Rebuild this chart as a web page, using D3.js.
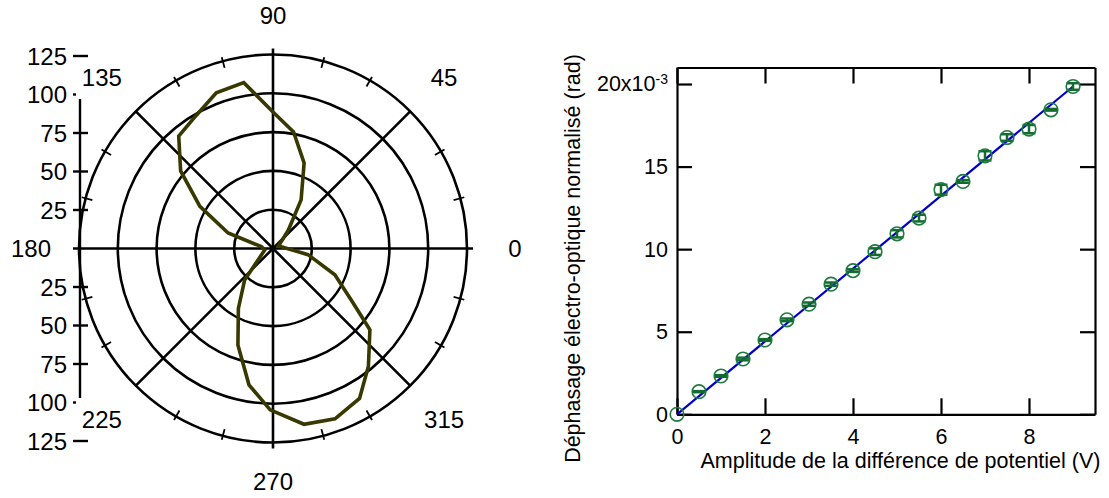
<!DOCTYPE html>
<html><head><meta charset="utf-8">
<script src="https://cdn.jsdelivr.net/npm/d3@7"></script>
<style>body{margin:0;background:#fff} text{font-family:"Liberation Sans",Arial,sans-serif;fill:#000}</style>
</head><body><svg id="c" width="1109" height="498"></svg>
<script>
// ---------- Polar data ----------
const polarAngles = [25, 50, 60, 70, 80, 90, 100, 110, 120, 130, 140, 150, 161, 171, 190, 228, 240, 250, 260, 269, 280, 290, 300, 309, 320, 326, 337, 350];
const polarRadii  = [4, 15.3, 36.2, 58.6, 76.3, 88, 108.5, 106.8, 99, 94.5, 77.7, 54.4, 30.6, 7.6, 5.4, 27.3, 44.6, 66.1, 89.2, 104, 115, 116.8, 111.5, 97.7, 81.5, 61.9, 43.3, 22.9];
const polarRings = [25, 50, 75, 100, 125];
const polarSpokes = [0, 45, 90, 135, 180, 225, 270, 315];
const polarAngleLabels = ["0", "45", "90", "135", "180", "225", "270", "315"];
const polarMinorTicks = [15, 30, 60, 75, 105, 120, 150, 165, 195, 210, 240, 255, 285, 300, 330, 345];
const radialTicks = [125, 100, 75, 50, 25, -25, -50, -75, -100, -125];
const radialTickLabels = ["125", "100", "75", "50", "25", "25", "50", "75", "100", "125"];

// ---------- XY data ----------
const voltage = [0, 0.5, 1, 1.5, 2, 2.5, 3, 3.5, 4, 4.5, 5, 5.5, 6, 6.5, 7, 7.5, 8, 8.5, 9];
const phase   = [0, 1.37, 2.32, 3.35, 4.5, 5.72, 6.67, 7.88, 8.7, 9.85, 10.93, 11.88, 13.6, 14.1, 15.65, 16.76, 17.27, 18.44, 19.85];
const phaseErr= [0, 0.03, 0.05, 0.08, 0.05, 0.08, 0.1, 0.1, 0.08, 0.2, 0.22, 0.2, 0.3, 0.08, 0.28, 0.2, 0.25, 0.05, 0.2];
const fitX = [0, 9];
const fitY = [0, 19.85];
const xTicks = [0, 2, 4, 6, 8];
const yTicks = [0, 5, 10, 15, 20];

const svg = d3.select("#c");
svg.append("rect").attr("width",1109).attr("height",498).attr("fill","#fff");

// ================= POLAR =================
const cx = 273, cy = 248.5;
const r = d3.scaleLinear().domain([0, 125]).range([0, 194]);
const toRad = a => a * Math.PI / 180;
const P = svg.append("g").attr("transform", `translate(${cx},${cy})`);

P.selectAll("circle.ring").data(polarRings).join("circle")
  .attr("r", d => r(d)).attr("fill","none").attr("stroke","#000").attr("stroke-width",2.6);

P.selectAll("line.spoke").data(polarSpokes).join("line")
  .attr("x1",0).attr("y1",0)
  .attr("x2", d => (d % 90 === 0 ? r(125)+6 : r(125)) * Math.cos(toRad(d)))
  .attr("y2", d => -(d % 90 === 0 ? r(125)+6 : r(125)) * Math.sin(toRad(d)))
  .attr("stroke","#000").attr("stroke-width",2.6);

P.selectAll("line.mt").data(polarMinorTicks).join("line")
  .attr("x1", d => (r(125)-7) * Math.cos(toRad(d)))
  .attr("y1", d => -(r(125)-7) * Math.sin(toRad(d)))
  .attr("x2", d => (r(125)+4) * Math.cos(toRad(d)))
  .attr("y2", d => -(r(125)+4) * Math.sin(toRad(d)))
  .attr("stroke","#000").attr("stroke-width",1.8);

const pts = polarAngles.map((a,i) => ({a, v: polarRadii[i]}));
const radial = d3.lineRadial().angle(d => toRad(90 - d.a)).radius(d => r(d.v)).curve(d3.curveLinearClosed);
P.append("path").datum(pts).attr("d", radial)
  .attr("fill","none").attr("stroke","#383800").attr("stroke-width",3.6).attr("stroke-linejoin","miter");

P.selectAll("text.al").data(polarSpokes).join("text")
  .attr("x", d => (d % 180 === 90 ? 234 : 242) * Math.cos(toRad(d)))
  .attr("y", d => -(d % 180 === 90 ? 233 : 242) * Math.sin(toRad(d)))
  .attr("dy","0.36em").attr("text-anchor","middle").attr("font-size",24)
  .text((d,i) => polarAngleLabels[i]);

// radial axis on the left
const yAx = d3.scaleLinear().domain([-125,125]).range([441, 56]);
const axX = 80;
svg.append("line").attr("x1",axX).attr("x2",axX).attr("y1",yAx(97)).attr("y2",yAx(-97))
  .attr("stroke","#000").attr("stroke-width",2.4);
svg.selectAll("line.rt").data(radialTicks).join("line")
  .attr("x1",axX-7).attr("x2", d => Math.abs(d) === 100 ? axX-4 : axX+8)
  .attr("y1", d => yAx(d)).attr("y2", d => yAx(d))
  .attr("stroke","#000").attr("stroke-width",2.4);
svg.selectAll("text.rl").data(radialTicks).join("text")
  .attr("x",67).attr("y", d => yAx(d)).attr("dy","0.36em")
  .attr("text-anchor","end").attr("font-size",24)
  .text((d,i) => radialTickLabels[i]);

// ================= XY CHART =================
const L = 677, R = 1095, T = 67.5, B = 414.3;
const x = d3.scaleLinear().domain([0, 9.5]).range([L, R]);
const y = d3.scaleLinear().domain([0, 21]).range([B, T]);
const FS = 21.5;

function styleAxis(g){
  g.attr("font-size",FS).attr("font-family",'"Liberation Sans",Arial,sans-serif');
  g.selectAll("path.domain").attr("stroke","#000").attr("stroke-width",2.2);
  g.selectAll(".tick line").attr("stroke","#000").attr("stroke-width",2.2);
  g.selectAll(".tick text").attr("fill","#000");
}
svg.append("g").attr("transform",`translate(0,${B})`)
  .call(d3.axisBottom(x).tickValues(xTicks).tickSize(-16).tickSizeOuter(0).tickPadding(14).tickFormat(d3.format("d")))
  .call(styleAxis);
svg.append("g").attr("transform",`translate(0,${T})`)
  .call(d3.axisTop(x).tickValues(xTicks).tickSize(-16).tickSizeOuter(0).tickFormat(""))
  .call(styleAxis);
const gy = svg.append("g").attr("transform",`translate(${L},0)`)
  .call(d3.axisLeft(y).tickValues(yTicks).tickSize(-15).tickSizeOuter(0).tickPadding(9).tickFormat(d3.format("d")))
  .call(styleAxis);
svg.append("g").attr("transform",`translate(${R},0)`)
  .call(d3.axisRight(y).tickValues(yTicks).tickSize(-15).tickSizeOuter(0).tickFormat(""))
  .call(styleAxis);
// exponent on top label
gy.selectAll(".tick text").filter(d => d === 20).each(function(){
  const t = d3.select(this);
  t.text("20x10");
  t.append("tspan").attr("font-size",14).attr("dy","-0.55em").text("-3");
});

// fit line
const fitPts = fitX.map((v,i) => [v, fitY[i]]);
svg.append("path").datum(fitPts)
  .attr("d", d3.line().x(d => x(d[0])).y(d => y(d[1])))
  .attr("stroke","#0000cc").attr("stroke-width",2.2).attr("fill","none");

// error bars
const data = voltage.map((v,i) => ({v, p: phase[i], e: phaseErr[i]}));
const eb = svg.append("g").attr("stroke","#146b30").attr("stroke-width",2.5);
eb.selectAll("line.v").data(data).join("line")
  .attr("x1", d => x(d.v)).attr("x2", d => x(d.v))
  .attr("y1", d => y(d.p - d.e)).attr("y2", d => y(d.p + d.e));
eb.selectAll("line.t").data(data.filter(d => d.e > 0)).join("line")
  .attr("x1", d => x(d.v)-6.5).attr("x2", d => x(d.v)+6.5)
  .attr("y1", d => y(d.p + d.e)).attr("y2", d => y(d.p + d.e));
eb.selectAll("line.b").data(data.filter(d => d.e > 0)).join("line")
  .attr("x1", d => x(d.v)-6.5).attr("x2", d => x(d.v)+6.5)
  .attr("y1", d => y(d.p - d.e)).attr("y2", d => y(d.p - d.e));

svg.append("g").selectAll("circle").data(data).join("circle")
  .attr("cx", d => x(d.v)).attr("cy", d => y(d.p)).attr("r",6.8)
  .attr("fill","none").attr("stroke","#1f7a3f").attr("stroke-width",1.6);

// axis titles
svg.append("text").attr("x", (698+1103)/2).attr("y",468).attr("text-anchor","middle")
  .attr("font-size",FS).text("Amplitude de la différence de potentiel (V)");
svg.append("text").attr("transform","translate(580,258.5) rotate(-90)").attr("text-anchor","middle")
  .attr("font-size",FS).text("Déphasage électro-optique normalisé (rad)");
</script></body></html>
